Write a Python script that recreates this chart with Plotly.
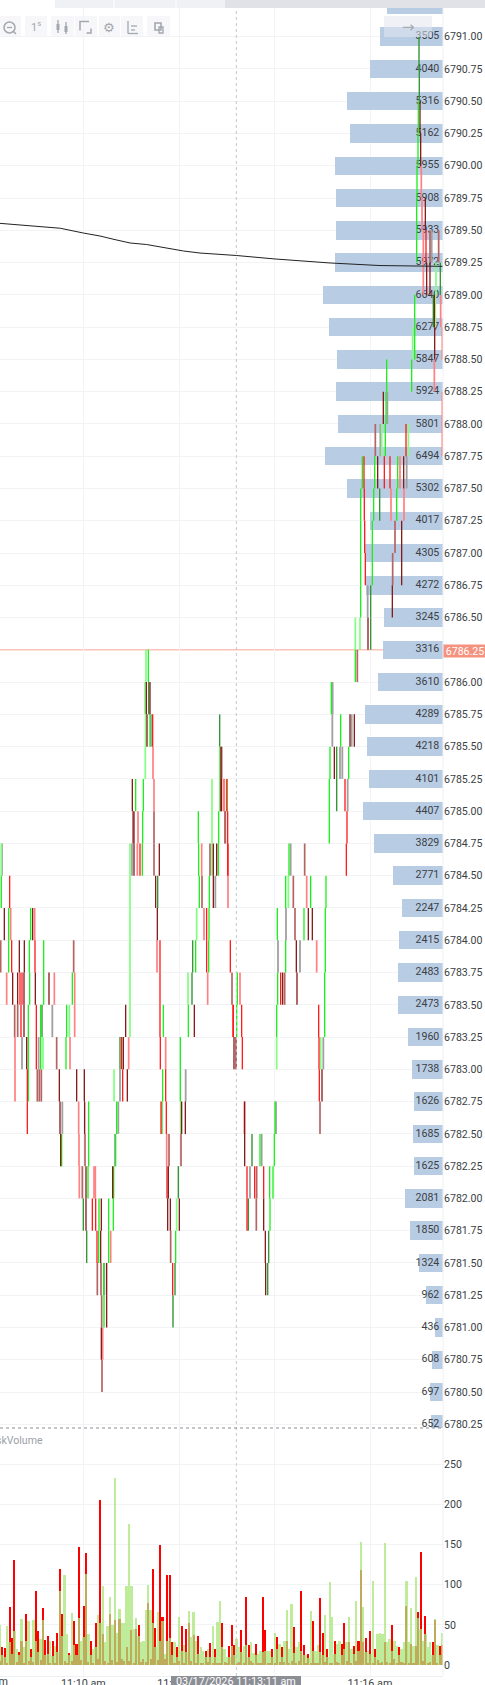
import plotly.graph_objects as go

# x axis unit: chart slot (the chart is a bar-index axis, 3 slots per screen pixel)
SLOT_MAX = 1329
TICK = 0.25
time_tick_slots = [250, 539, 824, 1110]
time_tick_labels = ["11:10 am", "11:12 am", "11:14 am", "11:16 am"]
crosshair_slot = 709
crosshair_label = "03/17/2026 11:13:11 am"
last_price = 6786.25

profile_prices = [6791.25, 6791.00, 6790.75, 6790.50, 6790.25, 6790.00, 6789.75, 6789.50, 6789.25, 6789.00,
                  6788.75, 6788.50, 6788.25, 6788.00, 6787.75, 6787.50, 6787.25, 6787.00, 6786.75, 6786.50,
                  6786.25, 6786.00, 6785.75, 6785.50, 6785.25, 6785.00, 6784.75, 6784.50, 6784.25, 6784.00,
                  6783.75, 6783.50, 6783.25, 6783.00, 6782.75, 6782.50, 6782.25, 6782.00, 6781.75, 6781.50,
                  6781.25, 6781.00, 6780.75, 6780.50, 6780.25]
profile_volume = [3074, 3505, 4040, 5316, 5162, 5955, 5908, 5933, 5972, 6640,
                  6277, 5847, 5924, 5801, 6494, 5302, 4017, 4305, 4272, 3245,
                  3316, 3610, 4289, 4218, 4101, 4407, 3829, 2771, 2247, 2415,
                  2483, 2473, 1960, 1738, 1626, 1685, 1625, 2081, 1850, 1324,
                  962, 436, 608, 697, 652]

vwap_slots = [0, 90, 181, 250, 300, 345, 390, 440, 495, 550, 600, 709, 825, 990, 1140, 1260, 1329]
vwap_price = [6789.554, 6789.535, 6789.516, 6789.479, 6789.456, 6789.428, 6789.402, 6789.390, 6789.363,
              6789.340, 6789.324, 6789.305, 6789.278, 6789.247, 6789.227, 6789.220, 6789.221]

# Candle pieces per ladder row: key = upper price of the row, value = slots per colour kind
candle_rows = {
    6791.00: dict(DG=[1257]),
    6790.75: dict(DG=[1258]),
    6790.50: dict(G=[1255], DR=[1260]),
    6790.25: dict(G=[1254], DR=[1262]),
    6790.00: dict(G=[1251], LR=[1264]),
    6789.75: dict(G=[1250], LR=[1266], DR=[1276]),
    6789.50: dict(G=[1250], LR=[1270], R=[1278], MR=[1290, 1316], GR=[1295]),
    6789.25: dict(LR=[1270], DR=[1280, 1290], LG=[1308], DG=[1321]),
    6789.00: dict(DG=[1300], LG=[1306], DR=[1303], LR=[1322], G=[1244]),
    6788.75: dict(LG=[1238], G=[1244], DR=[1304], LR=[1327]),
    6788.50: dict(G=[1160, 1235], LR=[1303]),
    6788.25: dict(DR=[1150], GR=[1162], G=[1158], LR=[1327]),
    6788.00: dict(MR=[1126], GR=[1141], LG=[1145], G=[1156], R=[1218], LG2=[1225], LR=[1327]),
    6787.75: dict(G=[1087, 1124, 1193], R=[1092, 1153, 1170], DR=[1133, 1211], LR=[1200], GR=[1220]),
    6787.50: dict(G=[1082, 1121, 1190], R=[1093], DG=[1139], LR=[1173, 1212]),
    6787.25: dict(G=[1082, 1117], R=[1094], MR=[1185], DR=[1205]),
    6787.00: dict(G=[1082, 1117], R=[1096], MR=[1178], DR=[1205]),
    6786.75: dict(G=[1082], GR=[1103], DG=[1112], DR=[1177]),
    6786.50: dict(LG=[1066, 1080], DR=[1104], DG=[1112]),
    6786.25: dict(G=[445, 1066], LG=[438], MR=[1072]),
    6786.00: dict(LG=[435], DR=[439, 450], DG=[446], GR=[998], G=[994]),
    6785.75: dict(LG=[437], DR=[441, 1050, 1063], G=[450, 1022], R=[458], DG=[659], GR=[453, 997, 1055]),
    6785.50: dict(LG=[436], LR=[459], MR=[665], G=[660, 990, 1046], DR=[1003, 663], DG=[1010], GR=[1020, 1027]),
    6785.25: dict(DR=[397, 664, 663], G=[407, 430, 660, 680, 988], LR=[462, 673, 670], LG=[636], R=[681, 1035], DG=[1010], GR=[1043]),
    6785.00: dict(DR=[402], MR=[399, 462, 675, 676], LR=[414], G=[428, 595, 656, 988], LG=[636], R=[683, 1041]),
    6784.75: dict(GR=[6, 396, 872], LG=[4, 390, 636], DR=[402, 478, 640, 650], MR=[462, 630, 914], R=[420, 684, 1039, 683], LR=[412, 605], G=[427, 596, 655, 867]),
    6784.50: dict(G=[4, 598, 628, 932, 857, 978], R=[29], LG=[390, 865], DR=[467, 640], DG=[473], MR=[606], GR=[646], LR=[684, 920], MR2=[880]),
    6784.25: dict(DR=[13, 98, 472, 925, 937], G=[26, 92, 627, 832, 912, 976], LR=[32, 104, 612], LG=[390, 590], R=[620], GR=[858], MR=[885]),
    6784.00: dict(MR=[2, 221], G=[26, 88, 131, 587, 626, 857, 976], R=[35, 105, 480, 620, 691], DR=[58, 73, 889], LG=[390], LR=[471, 950], DG=[578], GR=[834, 900]),
    6783.75: dict(LR=[20, 163, 224, 623, 720], DR=[38, 53, 72, 106, 147, 848, 891], R=[60, 66, 480, 842], G=[89, 131, 217, 712, 833, 974], LG=[390, 564], DG=[576], MR=[696, 854]),
    6783.50: dict(MR=[44, 53], R=[63, 109, 480, 699, 700, 725, 956], DR=[72, 377, 583], G=[85, 122, 200, 490, 565, 710, 830, 974], DG=[126], GR=[157], LG=[208, 390], LR=[224]),
    6783.25: dict(LR=[45, 210, 386, 497], GR=[66, 116], DR=[80, 370, 702, 708], G=[85, 122, 198, 541], R=[109, 365, 481, 727, 957], LG=[129, 830, 962], MR=[170], DG=[360], GR2=[970]),
    6783.00: dict(LR=[45], R=[82, 368, 497, 958], G=[85, 488, 541], MR=[112, 118, 124], DR=[178, 230, 253, 382, 966], LG=[342], GR=[360, 557]),
    6782.75: dict(R=[82, 483, 499], DR=[180, 254, 545, 556, 734], GR=[187, 355, 828], LR=[236, 733], G=[266, 350, 486, 543, 825], MR=[960]),
    6782.50: dict(DR=[182, 734], G=[185, 266, 347, 780, 823], LR=[237, 500], MR=[255, 507, 543], GR=[345, 785], DG=[756]),
    6782.25: dict(LR=[238, 282, 286], MR=[247, 770], DR=[258, 338, 505], G=[264, 341, 809, 819], R=[501, 741, 764, 791], DG=[535], GR=[750]),
    6782.00: dict(DG=[250], DR=[258, 304, 503, 511, 791], R=[277, 287, 741], G=[297, 326, 340, 810], LG=[530], MR=[769], DG2=[745], DR2=[538]),
    6781.75: dict(DG=[260, 806], R=[291], G=[296, 326, 527], DR=[302, 796], LR=[332], MR=[512]),
    6781.50: dict(MR=[292, 303], GR=[313], DG=[525, 803], DR=[320, 797], R=[518], G=[311]),
    6781.25: dict(MR=[305], G=[312], DR=[320], DG=[519]),
    6781.00: dict(DR=[304], LR=[308]),
    6780.75: dict(MR=[306]),
}

vol_red = [5, 22, 21, 3, 72, 33, 130, 4, 16, 30,
           3, 64, 5, 20, 4, 92, 42, 6, 71, 31,
           36, 2, 30, 3, 40, 120, 64, 5, 2, 15,
           5, 55, 26, 147, 6, 73, 139, 4, 30, 3,
           52, 7, 205, 38, 5, 3, 64, 6, 56, 4,
           57, 7, 5, 22, 5, 44, 3, 45, 50, 4,
           8, 4, 77, 7, 120, 46, 6, 149, 60, 8,
           112, 112, 28, 3, 22, 5, 48, 3, 45, 52,
           5, 37, 3, 36, 3, 2, 18, 4, 27, 2,
           20, 3, 3, 52, 4, 2, 24, 50, 25, 2,
           4, 44, 3, 85, 25, 5, 2, 26, 3, 3,
           84, 44, 3, 2, 20, 3, 35, 4, 22, 4,
           30, 2, 5, 47, 3, 5, 92, 25, 2, 14,
           3, 55, 2, 2, 83, 40, 4, 20, 2, 3,
           30, 4, 3, 26, 52, 5, 28, 2, 24, 5,
           30, 118, 28, 33, 3, 42, 3, 20, 6, 3,
           4, 28, 4, 3, 50, 7, 2, 22, 4, 3,
           74, 3, 26, 2, 24, 66, 140, 5, 61, 3,
           4, 28, 56, 2, 24, 25]
vol_green = [50, 12, 10, 48, 28, 14, 42, 20, 12, 57,
             22, 30, 55, 10, 56, 30, 16, 32, 56, 12,
             14, 30, 11, 24, 16, 92, 36, 112, 38, 12,
             65, 25, 12, 58, 30, 35, 113, 38, 12, 20,
             22, 62, 52, 98, 28, 48, 85, 50, 232, 40,
             70, 52, 52, 98, 175, 98, 45, 58, 36, 28,
             30, 68, 100, 68, 52, 22, 66, 30, 55, 14,
             30, 34, 12, 28, 10, 60, 18, 25, 16, 67,
             35, 66, 30, 14, 22, 18, 10, 20, 10, 48,
             10, 54, 79, 22, 20, 10, 10, 24, 12, 32,
             22, 16, 24, 25, 10, 28, 15, 12, 14, 18,
             16, 18, 18, 18, 10, 40, 20, 26, 10, 30,
             68, 20, 76, 15, 22, 28, 18, 12, 12, 9,
             67, 18, 18, 25, 16, 12, 62, 10, 103, 60,
             14, 26, 30, 12, 20, 28, 60, 20, 14, 80,
             18, 153, 72, 16, 18, 14, 104, 10, 38, 40,
             38, 152, 28, 32, 18, 30, 24, 12, 20, 28,
             104, 28, 71, 24, 110, 58, 45, 30, 38, 22,
             28, 12, 57, 25, 12, 40]
volume_ticks = [0, 50, 100, 150, 200, 250]
BAR_SLOTS = 7.17
price_ticks = [p for p in profile_prices[1:] if p != last_price]

STYLE = {  # kind -> colour, width
    "GR": ("#a0a0a0", 1.8), "GR2": ("#a0a0a0", 1.8),
    "LG": ("#80ff80", 1.7), "LG2": ("#80ff80", 1.7),
    "LR": ("#ff8080", 1.7), "MR": ("#b56464", 1.7), "MR2": ("#b56464", 1.7),
    "DG": ("#359635", 1.4), "DG2": ("#359635", 1.4),
    "G": ("#18f018", 1.3), "R": ("#ff1818", 1.3),
    "DR": ("#861616", 1.3), "DR2": ("#861616", 1.3),
}
W, H, PLOT_R, PLOT_B, SPLIT = 485, 1685, 443, 1676, 1428
fpx = lambda x: x / PLOT_R
fpy = lambda y: (PLOT_B - y) / PLOT_B
FONT = "Roboto, sans-serif"
TXT = "#3c3f44"
GRID = "#f2f3f5"
ICON = "#a3a7af"

fig = go.Figure()

# Volume profile bars growing left from the right side of the price pane
fig.add_trace(go.Bar(y=profile_prices, x=[-v * 0.0543 for v in profile_volume], base=SLOT_MAX,
                     orientation="h", width=0.143, marker=dict(color="#b8cce4", line=dict(width=0)),
                     xaxis="x", yaxis="y", showlegend=False, hoverinfo="skip"))
fig.add_trace(go.Scatter(x=[SLOT_MAX - 11] * len(profile_prices), y=profile_prices, mode="text",
                         text=[str(v) for v in profile_volume], textposition="middle left",
                         textfont=dict(family=FONT, size=10.6, color=TXT), xaxis="x", yaxis="y",
                         showlegend=False, hoverinfo="skip"))

for kind in STYLE:
    xs, ys = [], []
    for top, row in candle_rows.items():
        for s in row.get(kind, []):
            xs += [s, s, None]
            ys += [top, top - TICK, None]
    if xs:
        fig.add_trace(go.Scatter(x=xs, y=ys, mode="lines", xaxis="x", yaxis="y", showlegend=False,
                                 line=dict(color=STYLE[kind][0], width=STYLE[kind][1]), hoverinfo="skip"))

fig.add_trace(go.Scatter(x=vwap_slots, y=vwap_price, mode="lines", xaxis="x", yaxis="y", showlegend=False,
                         line=dict(color="#222222", width=1), hoverinfo="skip"))

vol_slots = [i * BAR_SLOTS for i in range(len(vol_red))]
fig.add_trace(go.Bar(x=vol_slots, y=vol_red, width=6.2, marker=dict(color="#ff0000", line=dict(width=0)),
                     xaxis="x2", yaxis="y2", showlegend=False, hoverinfo="skip"))
fig.add_trace(go.Bar(x=vol_slots, y=vol_green, width=7.17,
                     marker=dict(color="rgba(170,230,120,0.75)", line=dict(width=0)),
                     xaxis="x2", yaxis="y2", showlegend=False, hoverinfo="skip"))

shapes = []
def rect(x0, y0, x1, y1, fill, line=None, dash=None, lw=1):
    shapes.append(dict(type="rect", xref="paper", yref="paper", x0=fpx(x0), x1=fpx(x1), y0=fpy(y0), y1=fpy(y1),
                       fillcolor=fill, layer="above",
                       line=dict(color=line or "rgba(0,0,0,0)", width=lw if line else 0, dash=dash or "solid")))
def seg(x0, y0, x1, y1, color=ICON, lw=1.3, dash="solid"):
    shapes.append(dict(type="line", xref="paper", yref="paper", x0=fpx(x0), x1=fpx(x1), y0=fpy(y0), y1=fpy(y1),
                       layer="above", line=dict(color=color, width=lw, dash=dash)))

# last price line, crosshair, pane separator
shapes.append(dict(type="line", xref="paper", yref="y", x0=0, x1=1, y0=last_price, y1=last_price, layer="below",
                   line=dict(color="rgba(244,146,127,0.55)", width=1.5)))
shapes.append(dict(type="line", xref="x", yref="paper", x0=crosshair_slot, x1=crosshair_slot, y0=0, y1=1,
                   layer="above", line=dict(color="#c4c6ca", width=1, dash="dot")))
seg(0, SPLIT, PLOT_R, SPLIT, color="#8a8d92", lw=1, dash="dot")
seg(PLOT_R, 0, PLOT_R, PLOT_B, color="#eef0f2", lw=1)

# top strip
rect(55, 0, 225, 8, "#f0f1f4")
rect(225, 0, 485, 8, "#e0e2e7")
seg(114, 0, 114, 8, color="#ffffff", lw=1)
seg(176, 0, 176, 8, color="#ffffff", lw=1)

# crosshair time label background
rect(171, 1676, 301, 1685, "#8b8e95")

# toolbar buttons
for a, b in [(0, 21), (25, 47), (51, 74), (75, 97), (99, 120), (121, 143), (147, 170)]:
    rect(a, 16, b, 37, "rgba(240,241,244,0.55)")
rect(384, 16, 432, 37, "rgba(225,229,238,0.55)")
# zoom-out icon
shapes.append(dict(type="circle", xref="paper", yref="paper", layer="above", x0=fpx(4), x1=fpx(15), y0=fpy(22), y1=fpy(33),
                   line=dict(color=ICON, width=1.5)))
seg(13.5, 31.5, 16, 34, lw=1.5); seg(7, 27.5, 12, 27.5)
# candle icon
seg(58, 20, 58, 33); rect(56.5, 24, 59.5, 30, ICON)
seg(66, 22, 66, 34); rect(64.5, 26, 67.5, 32, ICON)
# selection icon
rect(80, 21.5, 91, 33, "rgba(0,0,0,0)", line=ICON, dash="dash", lw=1.5)
# axis icon
seg(128, 21, 128, 33.5); seg(128, 33.5, 138, 33.5); seg(131, 30, 135, 30); seg(131, 26, 137, 26)
# copy icon
rect(155, 23, 161, 30, "rgba(0,0,0,0)", line=ICON, lw=1.6); rect(159, 27, 163, 33, "rgba(0,0,0,0)", line=ICON, lw=1.3)

def note(x, y, text, size=10.6, color=TXT, xanchor="center", yanchor="middle", **kw):
    return dict(xref="paper", yref="paper", x=fpx(x), y=fpy(y), text=text, showarrow=False, xanchor=xanchor,
                yanchor=yanchor, font=dict(family=kw.pop("family", FONT), size=size, color=color), **kw)

annotations = [
    note(36, 26.5, "1<sup>s</sup>", size=11, color=ICON),
    note(109, 27, "⚙", size=13, color=ICON, family="DejaVu Sans"),
    note(408, 26.5, "→", size=15, color="#a7abb3", family="DejaVu Sans"),
    note(45, 1440, "AskVolume", size=10.6, color="#9ca0a8", xanchor="right"),
    note(10, 1682, "11:08 am", size=10.8, xanchor="right"),
    note(443, 650.5, f"{last_price:.2f}", size=10.6, color="#ffffff", xanchor="left", bgcolor="#f4927f",
         width=42, height=12, borderpad=0, align="center"),
    note(236, 1682, crosshair_label, size=10.8, color="#ffffff"),
]

common_grid = dict(showgrid=True, gridcolor=GRID, gridwidth=1, zeroline=False)
fig.update_layout(
    width=W, height=H, margin=dict(l=0, r=W - PLOT_R, t=0, b=H - PLOT_B, pad=0, autoexpand=False),
    paper_bgcolor="#ffffff", plot_bgcolor="#ffffff", barmode="overlay", bargap=0,
    showlegend=False, hovermode=False, shapes=shapes, annotations=annotations,
    xaxis=dict(domain=[0, 1], range=[0, SLOT_MAX], anchor="y", tickvals=time_tick_slots, showticklabels=False,
               ticks="", automargin=False, **common_grid),
    xaxis2=dict(domain=[0, 1], range=[0, SLOT_MAX], anchor="y2", tickvals=time_tick_slots, ticktext=time_tick_labels,
                ticks="", ticklabelstandoff=-3, showline=True, linecolor="#eef0f2", linewidth=1,
                automargin=False, tickfont=dict(family=FONT, size=10.8, color=TXT), **common_grid),
    yaxis=dict(domain=[fpy(SPLIT), 1], range=[6780.2214, 6791.2843], anchor="x", side="right",
               tickvals=price_ticks, tickformat=".2f", ticks="", automargin=False,
               tickfont=dict(family=FONT, size=10.6, color=TXT), **common_grid),
    yaxis2=dict(domain=[0, fpy(SPLIT)], range=[-13.7, 294.8], anchor="x2", side="right",
                tickvals=volume_ticks, ticks="", automargin=False,
                tickfont=dict(family=FONT, size=10.6, color=TXT), **common_grid),
)

fig.write_html("out.html", config=dict(displayModeBar=False),
               post_script="document.body.style.margin='0';document.body.style.overflow='hidden';")
